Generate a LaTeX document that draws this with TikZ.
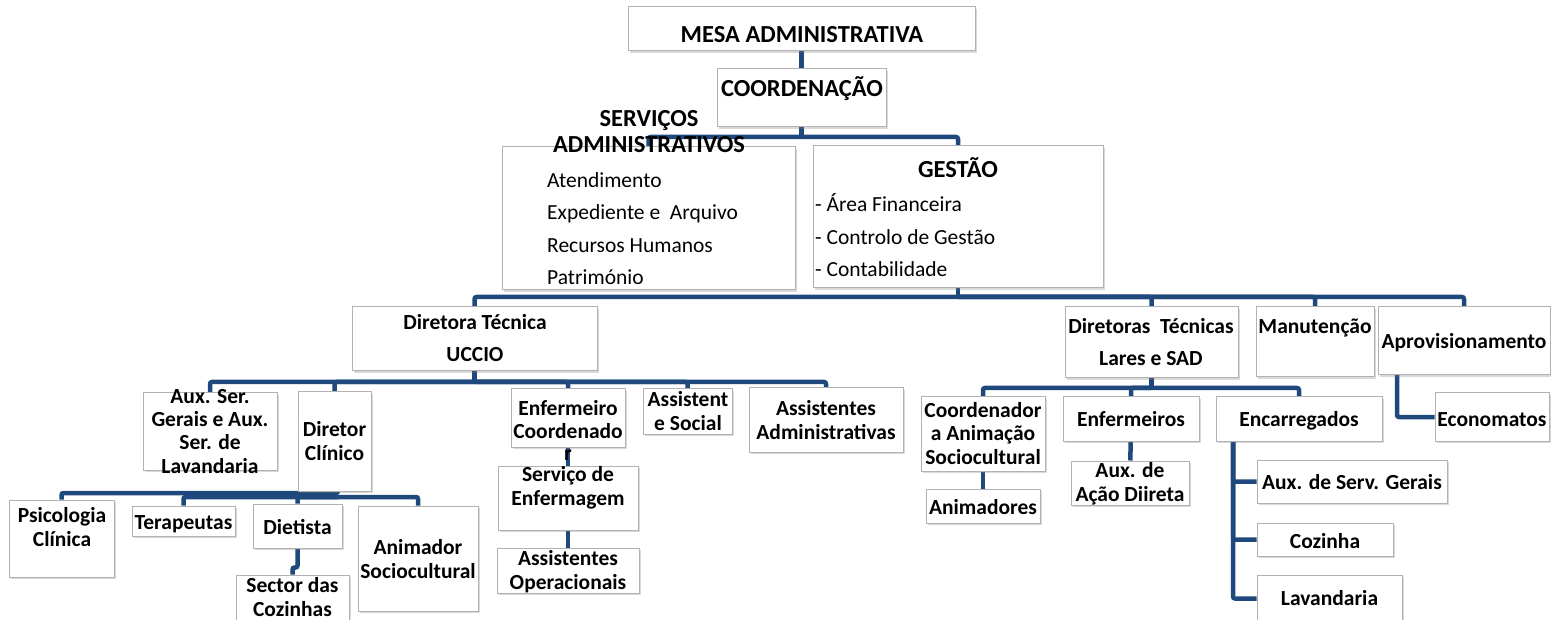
\documentclass[tikz,border=0pt]{standalone}
\usepackage{fontspec}
\setmainfont{Carlito}
\usetikzlibrary{shadows,backgrounds}
\definecolor{linkblue}{HTML}{1F497D}
\newcommand{\chartfont}{\fontsize{21.5}{23.3}\selectfont}
\newcommand{\headfont}{\fontsize{24.5}{26.5}\selectfont}
\tikzset{
  box/.style={draw=gray!60, line width=1pt, fill=white, inner sep=0pt,
    drop shadow={shadow xshift=2pt, shadow yshift=-2pt, opacity=0.3}},
  boxsize/.style 2 args={minimum width=#1pt, minimum height=#2pt},
  txt/.style={inner sep=0pt, anchor=base, align=center, font=\chartfont\bfseries},
  head/.style={txt, font=\headfont\bfseries},
  item/.style={inner sep=0pt, anchor=base west, font=\chartfont},
  link/.style={draw=linkblue, line width=4.5pt, rounded corners=2pt}
}

\begin{document}
\begin{tikzpicture}[x=1pt, y=-1pt]
\useasboundingbox (0,0) rectangle (1551,620);

% top of the chart (text nodes sit on the baseline of their last line)
\node[box, boxsize={347}{44}] (mesa) at (801.5,29) {};
\node[box, boxsize={169}{58}] (coord) at (801.5,98) {};
\node[box, boxsize={293}{143}] (servicos) at (648.5,218.5) {};
\node[box, boxsize={290}{142}] (gestao) at (958,217) {};
\node[head] (mesa-t) at (802,43) {MESA ADMINISTRATIVA};
\node[head] (coord-t) at (802,97) {COORDENAÇÃO};
\node[head] (servicos-t) at (649,153) {SERVIÇOS\\ADMINISTRATIVOS};
\node[item] (serv-a) at (547,188) {Atendimento};
\node[item] (serv-b) at (547,220) {Expediente e\ \ Arquivo};
\node[item] (serv-c) at (547,253) {Recursos Humanos};
\node[item] (serv-d) at (547,285) {Património};
\node[head] (gestao-t) at (958,178) {GESTÃO};
\node[item] (gest-a) at (815,212) {- Área Financeira};
\node[item] (gest-b) at (815,245) {- Controlo de Gestão};
\node[item] (gest-c) at (815,277) {- Contabilidade};

% second level
\node[box, boxsize={245}{64}] (uccio) at (474.5,339) {};
\node[box, boxsize={173}{71}] (lares) at (1151.5,342.5) {};
\node[box, boxsize={118}{70}] (manut) at (1315,342) {};
\node[box, boxsize={172}{68}] (aprov) at (1464,341) {};
\node[txt] (uccio-t) at (475,362) {Diretora Técnica\\[8.7pt]UCCIO};
\node[txt] (lares-t) at (1151,366) {Diretoras\ \ Técnicas\\[8.7pt]Lares e SAD};
\node[txt] (manut-t) at (1315,334) {Manutenção};
\node[txt] (aprov-t) at (1464,349) {Aprovisionamento};

% UCCIO
\node[box, boxsize={134}{77}] (aux) at (210,431.5) {};
\node[box, boxsize={73}{99}] (clinico) at (334.5,441.5) {};
\node[box, boxsize={114}{58}] (enfcoord) at (568,418) {};
\node[box, boxsize={89}{45}] (social) at (687.5,411.5) {};
\node[box, boxsize={154}{64}] (admin) at (826,420) {};
\node[box, boxsize={140}{64}] (servico) at (568,498) {};
\node[box, boxsize={142}{45}] (assop) at (568,570.5) {};
\node[box, boxsize={105}{77}] (psico) at (61.5,538.5) {};
\node[box, boxsize={103}{30}] (terap) at (183.5,521) {};
\node[box, boxsize={89}{44}] (diet) at (297.5,526) {};
\node[box, boxsize={113}{47}] (sector) at (292.5,598.5) {};
\node[box, boxsize={120}{105}] (anim) at (418,558.5) {};
\node[txt] (aux-t) at (210,473) {Aux. Ser.\\Gerais e Aux.\\Ser. de\\Lavandaria};
\node[txt] (clinico-t) at (334.5,460) {Diretor\\Clínico};
\node[txt] (enfcoord-t) at (568,460) {Enfermeiro\\Coordenado\\[-2pt]r};
\node[txt] (social-t) at (688,430) {Assistent\\e Social};
\node[txt] (admin-t) at (826,439) {Assistentes\\Administrativas};
\node[txt] (servico-t) at (568,505) {Serviço de\\Enfermagem};
\node[txt] (assop-t) at (568,589) {Assistentes\\Operacionais};
\node[txt] (psico-t) at (62,546) {Psicologia\\Clínica};
\node[txt] (terap-t) at (183.5,529) {Terapeutas};
\node[txt] (diet-t) at (297.5,534) {Dietista};
\node[txt] (sector-t) at (292.5,616) {Sector das\\Cozinhas};
\node[txt] (anim-t) at (418,578) {Animador\\Sociocultural};

% Lares e SAD
\node[box, boxsize={124}{74}] (coordan) at (983,434) {};
\node[box, boxsize={114}{34}] (animad) at (983,506) {};
\node[box, boxsize={136}{44}] (enfs) at (1131,419) {};
\node[box, boxsize={118}{44}] (auxacao) at (1130,483) {};
\node[box, boxsize={166}{44}] (encarr) at (1299,419) {};
\node[box, boxsize={190}{43}] (auxserv) at (1352,481.5) {};
\node[box, boxsize={136}{33}] (cozinha) at (1325,539.5) {};
\node[box, boxsize={145}{47}] (lavand) at (1329.5,598.5) {};
\node[box, boxsize={114}{48}] (econ) at (1492,417) {};
\node[txt] (coordan-t) at (983,464) {Coordenador\\a Animação\\Sociocultural};
\node[txt] (animad-t) at (983,514) {Animadores};
\node[txt] (enfs-t) at (1131,426) {Enfermeiros};
\node[txt] (auxacao-t) at (1130,501) {Aux. de\\Ação Diireta};
\node[txt] (encarr-t) at (1299,426) {Encarregados};
\node[txt] (auxserv-t) at (1352,489) {Aux. de Serv. Gerais};
\node[txt] (cozinha-t) at (1325,548) {Cozinha};
\node[txt] (lavand-t) at (1329.5,605) {Lavandaria};
\node[txt] (econ-t) at (1492,426) {Economatos};

% connectors
\begin{scope}[on background layer]
\coordinate (bus1) at (801.5,137);
\coordinate (bus2) at (958,297);
\coordinate (bus3) at (474.5,382);
\coordinate (bus4) at (338,493);
\coordinate (bus5) at (338,497);
\coordinate (bus6) at (1151.5,388);
\coordinate (enctrunk) at (1233,441);
\coordinate (aprovx) at (1397,375);
\draw[link] (mesa) -- (coord);
\draw[link] (coord) -- (bus1);
\draw[link] (servicos.north) |- (bus1) -| (gestao.north);
\draw[link] (gestao.south) -- (bus2);
\draw[link] (uccio.north) |- (bus2) -| (aprov.north);
\draw[link] (bus2) -| (lares.north);
\draw[link] (bus2) -| (manut.north);
\draw[link] (uccio.south) -- (bus3);
\draw[link] (aux.north) |- (bus3) -| (admin.north);
\draw[link] (bus3) -| (clinico.north);
\draw[link] (bus3) -| (enfcoord.north);
\draw[link] (bus3) -| (social.north);
\draw[link] (psico.north) |- (bus4) -- (clinico.south -| bus4);
\draw[link] (terap.north) |- (bus5) -| (anim.north);
\draw[link] (bus5) -| (diet.north);
\draw[link] (diet.south) -- ++(0,19) -| (sector.north);
\draw[link] (enfcoord) -- (servico);
\draw[link] (servico) -- (assop);
\draw[link] (lares.south) -- (bus6);
\draw[link] (coordan.north) |- (bus6) -| (encarr.north);
\draw[link] (bus6) -| (enfs.north);
\draw[link] (coordan) -- (animad);
\draw[link] (enfs) -- (auxacao);
\draw[link] (enctrunk) |- (auxserv.west);
\draw[link] (enctrunk) |- (cozinha.west);
\draw[link] (enctrunk) |- (lavand.west);
\draw[link] (aprovx) |- (econ.west);
\end{scope}
\end{tikzpicture}
\end{document}
